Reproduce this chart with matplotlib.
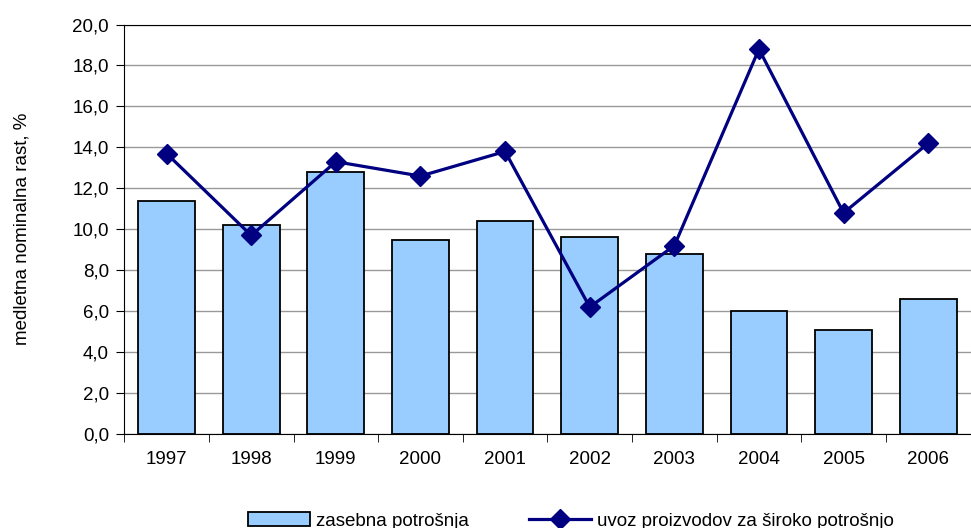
import matplotlib.pyplot as plt
import numpy as np

plt.rcParams["font.family"] = ["Liberation Sans", "DejaVu Sans"]

years = ["1997", "1998", "1999", "2000", "2001", "2002", "2003", "2004", "2005", "2006"]
zasebna = [11.4, 10.2, 12.8, 9.5, 10.4, 9.6, 8.8, 6.0, 5.1, 6.6]
uvoz = [13.7, 9.7, 13.3, 12.6, 13.8, 6.2, 9.2, 18.8, 10.8, 14.2]

fig = plt.figure(figsize=(9.71, 5.28), dpi=100)
ax = fig.add_axes([0.128, 0.178, 0.8715, 0.7755])

x = np.arange(len(years))
bars = ax.bar(x, zasebna, width=0.67, color="#99CCFF", edgecolor="black", linewidth=1.3,
              label="zasebna potrošnja", zorder=2)
line, = ax.plot(x, uvoz, color="#000080", linewidth=2.3, marker="D", markersize=10,
                label="uvoz proizvodov za široko potrošnjo", zorder=3)

ax.set_xlim(-0.5, len(years) - 0.5)
ax.set_ylim(0, 20)
ax.set_yticks(np.arange(0, 21, 2))
ax.set_yticklabels([f"{v:.1f}".replace(".", ",") for v in np.arange(0, 21, 2)], fontsize=13.5)
ax.yaxis.grid(True, color="#999999", linewidth=1, zorder=0)
ax.set_axisbelow(True)

ax.set_xticks(x)
ax.set_xticklabels(years, fontsize=13.5)
ax.set_xticks(np.arange(-0.5, len(years), 1), minor=True)
ax.tick_params(axis="x", which="major", length=0, pad=12)
ax.tick_params(axis="x", which="minor", length=6, color="black")
ax.tick_params(axis="y", length=6, pad=5)

ax.spines["right"].set_visible(False)
ax.spines["top"].set_color("black")
ax.set_ylabel("medletna nominalna rast, %", fontsize=13.5, labelpad=30)

fig.legend([bars, line], [bars.get_label(), line.get_label()],
           loc="lower center", bbox_to_anchor=(0.588, -0.035), ncol=2, frameon=False,
           fontsize=13.5, columnspacing=3.2, handlelength=3.3, handletextpad=0.35)

fig.savefig("out.png", dpi=100)
